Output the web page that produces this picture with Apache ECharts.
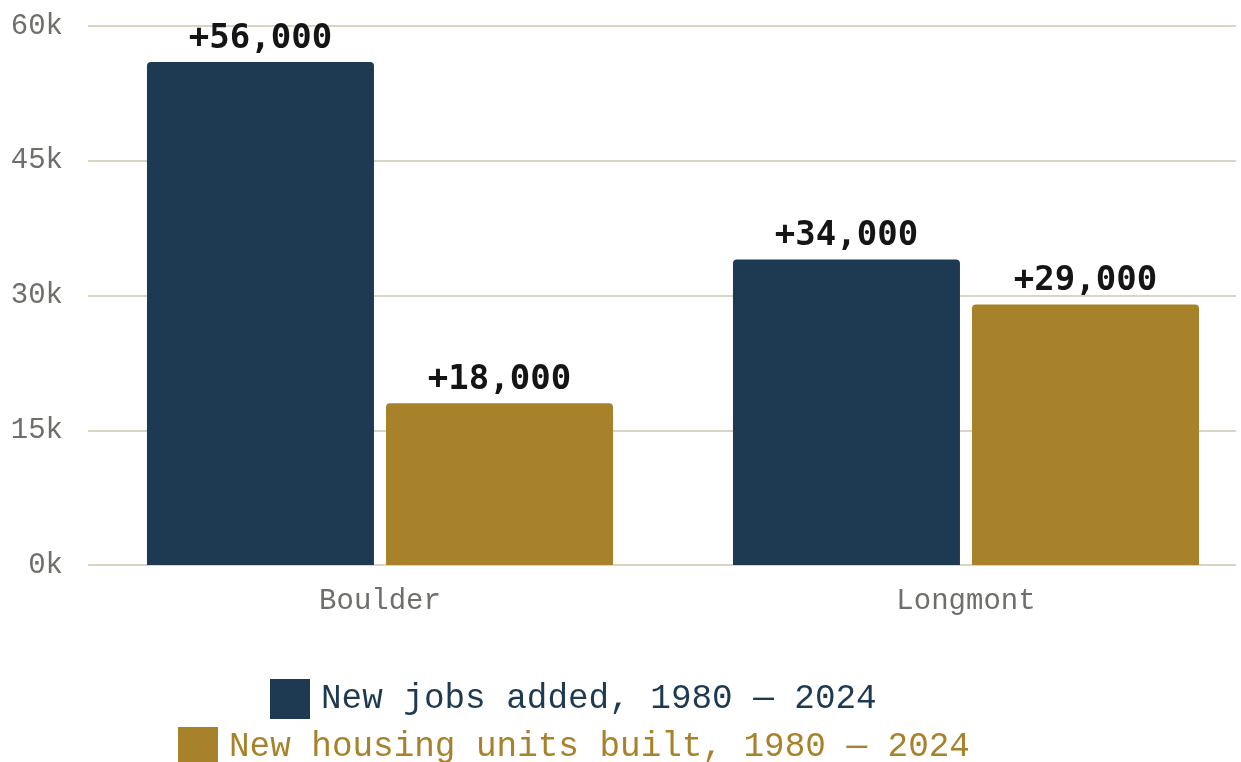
<!DOCTYPE html>
<html>
<head>
<meta charset="utf-8">
<script src="https://cdn.jsdelivr.net/npm/echarts@6/dist/echarts.min.js"></script>
<style>
  html, body { margin: 0; padding: 0; background: #ffffff; }
  #chart { width: 1241px; height: 762px; }
</style>
</head>
<body>
<div id="chart"></div>
<script>
// Cities compared and growth counts, 1980 - 2024
const cities = ['Boulder', 'Longmont'];
const jobsAdded = [56000, 34000];
const housingBuilt = [18000, 29000];
const seriesNames = ['New jobs added, 1980 — 2024', 'New housing units built, 1980 — 2024'];
const yTicks = [0, 15000, 30000, 45000, 60000];

const NAVY = '#1e3a52';
const GOLD = '#a8822a';
const MONO = '"Liberation Mono", "DejaVu Sans Mono", monospace';
const MONO_BOLD = '"DejaVu Sans Mono", "Liberation Mono", monospace';

const yMin = yTicks[0];
const yMax = yTicks[yTicks.length - 1];
const yStep = yTicks[1] - yTicks[0];

// city slots sit at x = 0, 1 on a value axis; the plot extends a bit
// further on the left of the first slot than on the right of the last
const X_MIN = -0.4983;
const X_MAX = 1.4608;
const cityPos = cities.map((_, i) => i);

const fmtPlus = v => '+' + v.toLocaleString('en-US');

const chart = echarts.init(document.getElementById('chart'), null, { renderer: 'canvas' });

const valueLabel = {
  show: true,
  position: 'top',
  distance: 6,
  formatter: p => fmtPlus(p.value[1]),
  fontFamily: MONO_BOLD,
  fontWeight: 'bold',
  fontSize: 34,
  color: '#151515'
};

chart.setOption({
  backgroundColor: '#ffffff',
  animation: false,
  grid: { left: 88, right: 5, top: 26, bottom: 197 },
  xAxis: {
    type: 'value',
    min: X_MIN,
    max: X_MAX,
    axisLine: { show: false },
    axisTick: { show: false },
    splitLine: { show: false },
    axisLabel: {
      customValues: cityPos,
      margin: 22,
      fontFamily: MONO,
      fontSize: 29,
      color: '#6e6e6a',
      formatter: v => cities[Math.round(v)]
    }
  },
  yAxis: {
    type: 'value',
    min: yMin,
    max: yMax,
    interval: yStep,
    axisLine: { show: false },
    axisTick: { show: false },
    axisLabel: {
      margin: 25,
      padding: [10, 0, 0, 0],
      fontFamily: MONO,
      fontSize: 29,
      color: '#6e6e6a',
      formatter: v => (v / 1000) + 'k'
    },
    splitLine: { lineStyle: { color: '#d9d4c3', width: 2 } }
  },
  legend: [
    {
      left: 270,
      top: 679,
      padding: 0,
      itemWidth: 40,
      itemHeight: 40,
      itemGap: 0,
      icon: 'rect',
      selectedMode: false,
      data: [{ name: seriesNames[0], textStyle: { color: NAVY } }],
      textStyle: { fontFamily: MONO, fontSize: 34.3, padding: [0, 0, 0, 6] }
    },
    {
      left: 178,
      top: 727,
      padding: 0,
      itemWidth: 40,
      itemHeight: 40,
      itemGap: 0,
      icon: 'rect',
      selectedMode: false,
      data: [{ name: seriesNames[1], textStyle: { color: GOLD } }],
      textStyle: { fontFamily: MONO, fontSize: 34.3, padding: [0, 0, 0, 6] }
    }
  ],
  series: [
    {
      name: seriesNames[0],
      type: 'bar',
      data: cityPos.map((x, i) => [x, jobsAdded[i]]),
      barWidth: 227,
      barGap: '5.3%',
      itemStyle: { color: NAVY, borderRadius: [4, 4, 0, 0] },
      label: valueLabel
    },
    {
      name: seriesNames[1],
      type: 'bar',
      data: cityPos.map((x, i) => [x, housingBuilt[i]]),
      barWidth: 227,
      barGap: '5.3%',
      itemStyle: { color: GOLD, borderRadius: [4, 4, 0, 0] },
      label: valueLabel
    }
  ]
});
</script>
</body>
</html>
